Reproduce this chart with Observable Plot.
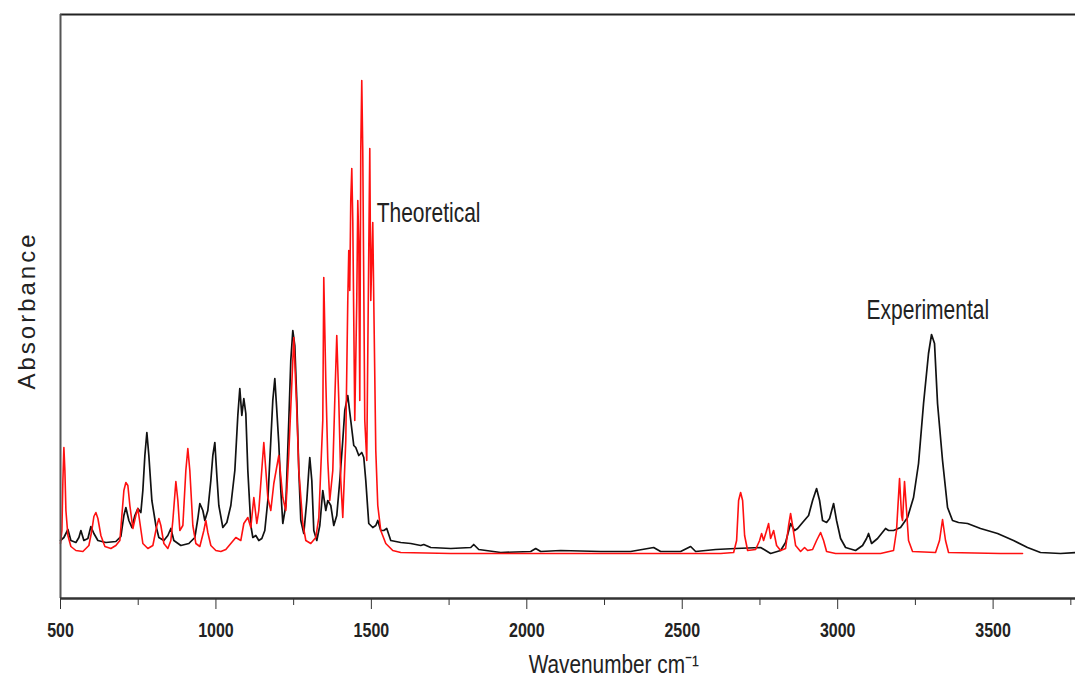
<!DOCTYPE html>
<html>
<head>
<meta charset="utf-8">
<script src="https://cdn.jsdelivr.net/npm/d3@7"></script>
<script src="https://cdn.jsdelivr.net/npm/@observablehq/plot@0.6"></script>
<style>
  html, body { margin: 0; padding: 0; background: #fff; }
  #chart svg { display: block; }
</style>
</head>
<body>
<div id="chart"></div>
<script>
// Theoretical spectrum (red): wavenumber (cm-1) and absorbance (arbitrary units)
const wnTheo = [500,504.5,507.7,510.9,514.1,517.4,523.8,533.4,549.5,572,591.3,600.8,607.4,613.8,620.3,629.9,642.8,662.1,678.1,691,697.4,703.9,710.3,716.7,723.1,732.8,742.4,748.9,755.3,764.9,781,797.1,810,816.4,822.8,832.5,845.3,855,861.4,871.1,877.5,883.9,893.6,903.2,909.6,916,925.7,935.4,948.2,961.1,967.5,973.9,983.6,999.7,1015.8,1031.8,1047.9,1064,1080,1089.7,1102.6,1112.2,1121.9,1131.5,1137.9,1154,1166.9,1176.5,1186.2,1202.2,1215.1,1224.7,1234.4,1250.5,1260.1,1266.6,1279.4,1289.1,1305.1,1321.2,1330.9,1343.7,1346.9,1353.4,1359.8,1366.2,1375.9,1382.3,1388.7,1395.2,1401.6,1408,1417.7,1424.1,1427.3,1430.5,1433.7,1437,1440.2,1446.6,1453,1456.3,1459.5,1462.7,1465.9,1469.1,1472.3,1478.8,1485.2,1491.6,1494.9,1498.1,1501.3,1504.5,1507.7,1514.2,1520.6,1530.2,1546.3,1568.8,1594.6,1755.4,2237.6,2623.5,2665.3,2674.9,2681.3,2687.8,2694.2,2700.6,2710.3,2736,2748.9,2755.3,2761.7,2771.4,2777.8,2784.2,2793.9,2803.5,2816.4,2832.4,2842.1,2848.5,2854.9,2864.6,2880.7,2893.5,2903.2,2919.3,2932.1,2945,2954.6,2964.3,2993.2,3137.9,3179.7,3189.3,3199,3205.4,3208.6,3215,3221.5,3227.9,3240.8,3314.8,3327.6,3337.3,3346.9,3356.6,3523.8,3594.6];
const absTheo = [55,68,118,151,128,88,63,52,48,47,53,68,82,86,80,63,52,50,53,58,83,108,116,113,93,70,83,90,76,55,50,53,73,80,73,55,50,58,78,117,98,68,73,128,150,128,73,55,52,68,78,66,53,48,47,49,55,61,58,75,81,71,101,75,88,156,101,88,115,143,101,88,145,261,188,128,75,58,55,61,81,178,321,218,138,98,128,198,263,198,118,81,158,298,348,308,398,430,378,178,298,398,358,198,448,518,448,178,138,348,450,298,338,376,298,148,93,68,55,48,46,45,45,45,46,58,98,106,98,63,48,49,58,65,58,68,75,60,68,53,48,50,73,85,73,53,47,51,48,49,58,66,58,47,45,45,48,68,120,83,78,117,88,58,47,46,58,79,58,46,45,45];

// Experimental spectrum (black)
const wnExp = [500,510.9,523.8,533.4,549.5,559.2,565.6,575.2,588.1,597.7,607.4,620.3,646,678.1,694.2,703.9,710.3,719.9,729.6,739.2,748.9,758.5,764.9,771.4,777.8,784.2,793.9,806.8,816.4,832.5,845.3,855,864.6,887.1,912.9,932.1,941.8,948.2,957.9,964.3,973.9,983.6,990,996.5,1002.9,1009.3,1022.2,1035,1047.9,1060.8,1070.4,1076.8,1083.3,1089.7,1096.1,1102.6,1112.2,1118.7,1128.3,1137.9,1147.6,1157.2,1166.9,1176.5,1182.9,1189.4,1195.8,1202.2,1208.7,1215.1,1224.7,1234.4,1240.8,1247.3,1253.7,1260.1,1266.6,1273,1282.6,1292.3,1298.7,1301.9,1308.4,1314.8,1324.4,1334.1,1343.7,1353.4,1359.8,1369.5,1379.1,1388.7,1398.4,1408,1414.5,1424.1,1433.7,1443.4,1449.8,1459.5,1469.1,1475.6,1482,1491.6,1504.5,1514.2,1520.6,1530.2,1539.9,1549.5,1562.4,1594.6,1626.7,1658.9,1668.5,1691,1755.4,1819.7,1829.3,1845.4,1916.1,2012.6,2028.6,2044.7,2109,2237.6,2334.1,2408,2430.5,2494.8,2527,2543.1,2607.4,2671.7,2752.1,2784.2,2816.4,2832.4,2848.5,2861.4,2871,2887.1,2906.4,2919.3,2932.1,2941.8,2951.4,2964.3,2973.9,2986.8,2996.4,3009.3,3025.4,3057.5,3080,3092.9,3099.3,3109,3128.3,3154,3163.6,3179.7,3202.2,3224.7,3244,3260.1,3276.2,3292.2,3301.9,3311.5,3321.2,3337.3,3353.4,3369.4,3388.7,3417.7,3459.5,3514.2,3565.6,3610.6,3652.4,3716.7,3765];
const absExp = [58,61,69,58,56,61,68,58,60,72,65,58,56,57,62,83,91,78,71,83,90,86,108,143,166,143,98,73,61,58,63,70,58,53,55,61,80,95,88,78,88,118,143,156,123,93,71,76,93,128,183,210,183,200,185,128,73,61,63,58,60,68,98,158,198,220,188,155,108,75,93,178,238,268,253,198,128,78,65,98,128,141,118,68,58,73,108,88,98,93,73,83,118,158,188,203,178,153,151,143,146,141,118,75,71,73,78,68,68,70,58,56,55,53,54,51,50,51,54,49,46,47,50,47,48,47,47,51,47,47,52,47,49,50,51,45,48,56,75,68,70,76,83,98,110,98,78,76,80,95,78,60,51,48,53,60,65,55,60,70,68,68,71,81,101,135,195,245,264,255,195,138,91,78,76,75,70,65,58,51,46,45,46];

// Axis ticks and labels
const majorTicks = [500, 1000, 1500, 2000, 2500, 3000, 3500];
const minorTicks = [750, 1250, 1750, 2250, 2750, 3250, 3750];
const seriesLabels = ["Theoretical", "Experimental"];
const labelWn = [1517, 3093];
const labelAbs = [385, 288];
const xTitle = "Wavenumber cm\u207B\u00B9";
const yTitle = "Absorbance";

const theo = wnTheo.map((w, i) => ({wn: w, abs: absTheo[i]}));
const expt = wnExp.map((w, i) => ({wn: w, abs: absExp[i]}));
const labels = seriesLabels.map((t, i) => ({text: t, wn: labelWn[i], abs: labelAbs[i]}));

const font = "'Liberation Sans', Arial, sans-serif";

const chart = Plot.plot({
  width: 1075,
  height: 687,
  marginLeft: 60,
  marginRight: 0,
  marginTop: 14,
  marginBottom: 89,
  style: {background: "#fff", fontFamily: font, color: "#222"},
  x: {domain: [500, 3765], label: null},
  y: {domain: [0, 584], label: null, axis: null},
  marks: [
    Plot.line(expt, {x: "wn", y: "abs", stroke: "#111", strokeWidth: 1.7}),
    Plot.line(theo, {x: "wn", y: "abs", stroke: "#ff1010", strokeWidth: 1.6}),
    Plot.ruleY([584], {stroke: "#222", strokeWidth: 2}),
    Plot.ruleX([500], {stroke: "#555", strokeWidth: 2}),
    Plot.ruleY([0], {stroke: "#333", strokeWidth: 2.5}),
    Plot.axisX(majorTicks, {tickSize: 11, tickPadding: 13, stroke: "#333", fontSize: 20, fontWeight: "bold", fill: "#222", tickFormat: d => String(d), label: null}),
    Plot.axisX(minorTicks, {tickSize: 7, stroke: "#333", tickFormat: () => "", label: null}),
    Plot.text(labels, {x: "wn", y: "abs", text: "text", textAnchor: "start", fontSize: 28, fill: "#222"}),
    Plot.text([xTitle], {x: 2280, frameAnchor: "bottom", dy: 74, textAnchor: "middle", fontSize: 26, fill: "#222"}),
    Plot.text([yTitle], {frameAnchor: "left", dx: -33, dy: 4, rotate: -90, textAnchor: "middle", fontSize: 24, fill: "#222"})
  ]
});

// Condense horizontal text to match the narrow lettering of the original figure;
// the rotated y title is letter-spaced instead.
chart.querySelectorAll("text").forEach(t => {
  const tr = t.getAttribute("transform") || "";
  if (tr.includes("rotate")) {
    t.style.letterSpacing = "3px";
    return;
  }
  const g = t.closest("[font-size]");
  const fs = g ? parseFloat(g.getAttribute("font-size")) : 10;
  const k = fs >= 27 ? 0.75 : 0.8;
  const x = parseFloat(t.getAttribute("x") || 0);
  t.setAttribute("transform", `${tr} translate(${x},0) scale(${k},1) translate(${-x},0)`);
});

document.getElementById("chart").append(chart);
</script>
</body>
</html>
